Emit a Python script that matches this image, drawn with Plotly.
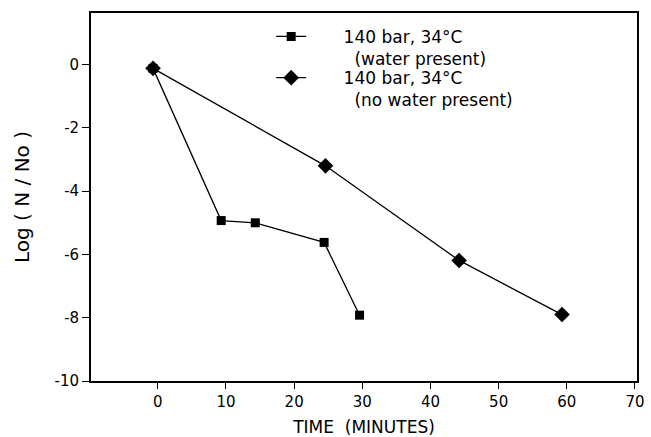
import plotly.graph_objects as go

# Data
t_water = [-0.7, 9.3, 14.3, 24.4, 29.6]
y_water = [-0.12, -4.93, -5.0, -5.62, -7.92]
t_dry = [-0.7, 24.6, 44.2, 59.3]
y_dry = [-0.12, -3.2, -6.19, -7.9]

x_ticks = [0, 10, 20, 30, 40, 50, 60, 70]
y_ticks = [0, -2, -4, -6, -8, -10]
y_ticktext = ["0", "-2", "-4", "-6", "-8", "-10"]

pad1 = "\u00a0" * 6
pad2 = "\u00a0" * 8
name_water = pad1 + "140 bar, 34°C<br>" + pad2 + "(water present)"
name_dry = pad1 + "140 bar, 34°C<br>" + pad2 + "(no water present)"

FONT = "DejaVu Sans"

fig = go.Figure()
fig.add_trace(go.Scatter(
    x=t_water, y=y_water, mode="lines+markers", name=name_water,
    line=dict(color="black", width=1.3),
    marker=dict(symbol="square", size=9, color="black"),
    legend="legend",
))
fig.add_trace(go.Scatter(
    x=t_dry, y=y_dry, mode="lines+markers", name=name_dry,
    line=dict(color="black", width=1.3),
    marker=dict(symbol="diamond", size=12, color="black"),
    legend="legend2",
))

legend_style = dict(
    xanchor="left", yanchor="top",
    bgcolor="rgba(0,0,0,0)", borderwidth=0,
    font=dict(family=FONT, size=17, color="black"),
    itemwidth=30, valign="top",
)

fig.update_layout(
    width=651, height=437,
    margin=dict(l=91, r=14, t=13, b=56),
    paper_bgcolor="white", plot_bgcolor="white",
    font=dict(family=FONT, color="black", size=15),
    showlegend=True,
    legend=dict(x=0.33, y=0.984, **legend_style),
    legend2=dict(x=0.33, y=0.872, **legend_style),
    xaxis=dict(
        range=[-9.8, 70.3], tickvals=x_ticks,
        showline=True, linecolor="black", linewidth=1.8, mirror=True,
        ticks="outside", ticklen=6, tickwidth=1.3, tickcolor="black",
        showgrid=False, zeroline=False, automargin=False,
        tickfont=dict(family=FONT, size=15),
        title=dict(text="TIME  (MINUTES)", font=dict(family=FONT, size=17), standoff=11),
    ),
    yaxis=dict(
        range=[-10, 1.63], tickvals=y_ticks, ticktext=y_ticktext,
        showline=True, linecolor="black", linewidth=1.8, mirror=True,
        ticks="outside", ticklen=7, tickwidth=1.3, tickcolor="black",
        showgrid=False, zeroline=False, automargin=False,
        tickfont=dict(family=FONT, size=15),
        title=dict(text="Log ( N / No )" + "\u00a0" * 9, font=dict(family=FONT, size=20), standoff=20),
    ),
)

fig.write_html("out.html")
